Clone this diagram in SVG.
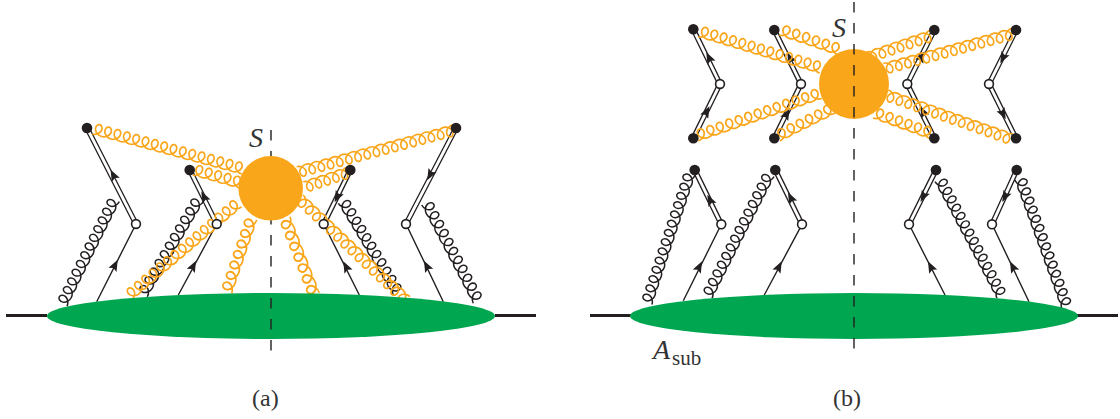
<svg xmlns="http://www.w3.org/2000/svg" width="1120" height="419" viewBox="0 0 1120 419">
<style>
.o{stroke:#faa61a;fill:none;stroke-width:1.7}
.k{stroke:#231f20;fill:none;stroke-width:1.5}
.l{stroke:#231f20;fill:none;stroke-width:1.4}
.w1{stroke:#231f20;fill:none;stroke-width:5.4}
.w2{stroke:#fff;fill:none;stroke-width:2.8}
.d{fill:#231f20}
.h{fill:#fff;stroke:#231f20;stroke-width:1.6}
.g{fill:#00a650}
.b{fill:#faa61a}
.x{stroke:#231f20;stroke-width:3;fill:none}
.c{stroke:#231f20;stroke-width:1.4;stroke-dasharray:10.5 10.5;fill:none}
text{font-family:"Liberation Serif",serif;fill:#333}
.i{font-style:italic;font-size:28px}
.s{font-size:21px}
.t{font-size:24px}
</style>
<defs>
<path id="coil" pathLength="20" d="M0 0
c3.69 0 7.12 2.62 7.935 5.5c.81 2.88-.995 5.5-3.065 5.5c-2.07 0-3.877-2.62-3.065-5.5c.81-2.88 4.245-5.5 7.935-5.5
c3.69 0 7.12 2.62 7.935 5.5c.81 2.88-.995 5.5-3.065 5.5c-2.07 0-3.877-2.62-3.065-5.5c.81-2.88 4.245-5.5 7.935-5.5
c3.69 0 7.12 2.62 7.935 5.5c.81 2.88-.995 5.5-3.065 5.5c-2.07 0-3.877-2.62-3.065-5.5c.81-2.88 4.245-5.5 7.935-5.5
c3.69 0 7.12 2.62 7.935 5.5c.81 2.88-.995 5.5-3.065 5.5c-2.07 0-3.877-2.62-3.065-5.5c.81-2.88 4.245-5.5 7.935-5.5
c3.69 0 7.12 2.62 7.935 5.5c.81 2.88-.995 5.5-3.065 5.5c-2.07 0-3.877-2.62-3.065-5.5c.81-2.88 4.245-5.5 7.935-5.5
c3.69 0 7.12 2.62 7.935 5.5c.81 2.88-.995 5.5-3.065 5.5c-2.07 0-3.877-2.62-3.065-5.5c.81-2.88 4.245-5.5 7.935-5.5
c3.69 0 7.12 2.62 7.935 5.5c.81 2.88-.995 5.5-3.065 5.5c-2.07 0-3.877-2.62-3.065-5.5c.81-2.88 4.245-5.5 7.935-5.5
c3.69 0 7.12 2.62 7.935 5.5c.81 2.88-.995 5.5-3.065 5.5c-2.07 0-3.877-2.62-3.065-5.5c.81-2.88 4.245-5.5 7.935-5.5
c3.69 0 7.12 2.62 7.935 5.5c.81 2.88-.995 5.5-3.065 5.5c-2.07 0-3.877-2.62-3.065-5.5c.81-2.88 4.245-5.5 7.935-5.5
c3.69 0 7.12 2.62 7.935 5.5c.81 2.88-.995 5.5-3.065 5.5c-2.07 0-3.877-2.62-3.065-5.5c.81-2.88 4.245-5.5 7.935-5.5
c3.69 0 7.12 2.62 7.935 5.5c.81 2.88-.995 5.5-3.065 5.5c-2.07 0-3.877-2.62-3.065-5.5c.81-2.88 4.245-5.5 7.935-5.5
c3.69 0 7.12 2.62 7.935 5.5c.81 2.88-.995 5.5-3.065 5.5c-2.07 0-3.877-2.62-3.065-5.5c.81-2.88 4.245-5.5 7.935-5.5
c3.69 0 7.12 2.62 7.935 5.5c.81 2.88-.995 5.5-3.065 5.5c-2.07 0-3.877-2.62-3.065-5.5c.81-2.88 4.245-5.5 7.935-5.5
c3.69 0 7.12 2.62 7.935 5.5c.81 2.88-.995 5.5-3.065 5.5c-2.07 0-3.877-2.62-3.065-5.5c.81-2.88 4.245-5.5 7.935-5.5
c3.69 0 7.12 2.62 7.935 5.5c.81 2.88-.995 5.5-3.065 5.5c-2.07 0-3.877-2.62-3.065-5.5c.81-2.88 4.245-5.5 7.935-5.5
c3.69 0 7.12 2.62 7.935 5.5c.81 2.88-.995 5.5-3.065 5.5c-2.07 0-3.877-2.62-3.065-5.5c.81-2.88 4.245-5.5 7.935-5.5
c3.69 0 7.12 2.62 7.935 5.5c.81 2.88-.995 5.5-3.065 5.5c-2.07 0-3.877-2.62-3.065-5.5c.81-2.88 4.245-5.5 7.935-5.5
c3.69 0 7.12 2.62 7.935 5.5c.81 2.88-.995 5.5-3.065 5.5c-2.07 0-3.877-2.62-3.065-5.5c.81-2.88 4.245-5.5 7.935-5.5
c3.69 0 7.12 2.62 7.935 5.5c.81 2.88-.995 5.5-3.065 5.5c-2.07 0-3.877-2.62-3.065-5.5c.81-2.88 4.245-5.5 7.935-5.5
c3.69 0 7.12 2.62 7.935 5.5c.81 2.88-.995 5.5-3.065 5.5c-2.07 0-3.877-2.62-3.065-5.5c.81-2.88 4.245-5.5 7.935-5.5"/>
<path id="ah" class="d" d="M6 0L-5.5 -4.5L-3.5 0L-5.5 4.5Z"/>
</defs>
<g id="connectors">
<g id="lines-a">
<path class="l" d="M96.7 301.7L136 224M178.3 295L216.7 224M359.3 295L323.7 224M443.3 301.7L406 224"/>
<path class="w1" d="M87 128L136 224M189.7 170L216.7 224M350.3 170L323.7 224M456 128L406 224"/>
<path class="w2" d="M87 128L136 224M189.7 170L216.7 224M350.3 170L323.7 224M456 128L406 224"/>
</g>
<g id="lines-b">
<path class="l" d="M683.3 300.7L721.3 224.3M764.3 295L802 224.3M945 295L909 224.3M1029 301.7L992 224.3"/>
<path class="w1" d="M693.3 29.3L720 84L693.3 138.3M774.3 30L801 84L774.3 138.3M934.3 30L907.3 84L934.3 138.3M1016 30L989 84L1016 138.3M694.7 170L721.3 224.3M775.3 170L802 224.3M936 170L909 224.3M1016.7 170L992 224.3"/>
<path class="w2" d="M693.3 29.3L720 84L693.3 138.3M774.3 30L801 84L774.3 138.3M934.3 30L907.3 84L934.3 138.3M1016 30L989 84L1016 138.3M694.7 170L721.3 224.3M775.3 170L802 224.3M936 170L909 224.3M1016.7 170L992 224.3"/>
</g>
<g id="arrows">
<use href="#ah" transform="translate(113.3,175) rotate(-117)"/>
<use href="#ah" transform="translate(115,265) rotate(-63)"/>
<use href="#ah" transform="translate(204,196.7) rotate(-117)"/>
<use href="#ah" transform="translate(193.3,266) rotate(-63)"/>
<use href="#ah" transform="translate(337.3,197) rotate(117)"/>
<use href="#ah" transform="translate(346,266.7) rotate(-117)"/>
<use href="#ah" transform="translate(430,175) rotate(117)"/>
<use href="#ah" transform="translate(426.7,266) rotate(-117)"/>
<use href="#ah" transform="translate(709,57.7) rotate(-117)"/>
<use href="#ah" transform="translate(706.7,111.7) rotate(-63)"/>
<use href="#ah" transform="translate(790,58) rotate(-117)"/>
<use href="#ah" transform="translate(786.7,114) rotate(-63)"/>
<use href="#ah" transform="translate(921.7,56.7) rotate(-63)"/>
<use href="#ah" transform="translate(923,111.7) rotate(-117)"/>
<use href="#ah" transform="translate(1003,58) rotate(117)"/>
<use href="#ah" transform="translate(1003,114) rotate(63)"/>
<use href="#ah" transform="translate(710,200) rotate(-117)"/>
<use href="#ah" transform="translate(699.3,266.7) rotate(-63)"/>
<use href="#ah" transform="translate(790.7,197.7) rotate(-117)"/>
<use href="#ah" transform="translate(779,266.7) rotate(-63)"/>
<use href="#ah" transform="translate(923.3,196.7) rotate(117)"/>
<use href="#ah" transform="translate(930.7,266.7) rotate(-117)"/>
<use href="#ah" transform="translate(1005,196.7) rotate(117)"/>
<use href="#ah" transform="translate(1012.7,266.7) rotate(-117)"/>
</g>
<g id="gluons-a">
<use href="#coil" class="k" stroke-dasharray="12 99" transform="translate(119.3,201.7) rotate(116.6)"/>
<use href="#coil" class="k" stroke-dasharray="11 99" transform="translate(203.3,201.7) rotate(120.5) scale(1.03,1)"/>
<use href="#coil" class="k" stroke-dasharray="11 99" transform="translate(338.3,203.3) rotate(59) scale(1,-1)"/>
<use href="#coil" class="k" stroke-dasharray="11 99" transform="translate(421.7,205) rotate(62.3) scale(1.036,-1)"/>
<use href="#coil" class="o" stroke-dasharray="16 99" transform="translate(92.3,134) rotate(15) scale(.993,-1)"/>
<use href="#coil" class="o" stroke-dasharray="5 99" transform="translate(192.7,175) rotate(15.7) scale(1.006,-1)"/>
<use href="#coil" class="o" stroke-dasharray="15 99" transform="translate(131.7,300) rotate(-40.3) scale(.986,-1)"/>
<use href="#coil" class="o" stroke-dasharray="7 99" transform="translate(256.7,220) rotate(108.8) scale(1.137,1)"/>
<use href="#coil" class="o" stroke-dasharray="7 99" transform="translate(290,216.7) rotate(68.9) scale(1.195,1)"/>
<use href="#coil" class="o" stroke-dasharray="17 99" transform="translate(296.7,166.7) rotate(-15) scale(.975,1)"/>
<use href="#coil" class="o" stroke-dasharray="5 99" transform="translate(303.3,181.7) rotate(-18.4) scale(.94,1)"/>
<use href="#coil" class="o" stroke-dasharray="15 99" transform="translate(303.3,195) rotate(43.6) scale(1.009,1)"/>
</g>
<g id="gluons-b">
<use href="#coil" class="k" stroke-dasharray="14 99" transform="translate(695,175) rotate(108.4)"/>
<use href="#coil" class="k" stroke-dasharray="14 99" transform="translate(774,176.7) rotate(117)"/>
<use href="#coil" class="k" stroke-dasharray="14 99" transform="translate(935,181.7) rotate(62) scale(.968,-1)"/>
<use href="#coil" class="k" stroke-dasharray="14 99" transform="translate(1015,180) rotate(70) scale(1,-1)"/>
<use href="#coil" class="o" stroke-dasharray="13 99" transform="translate(698.3,36.7) rotate(16.7) scale(1,-1)"/>
<use href="#coil" class="o" stroke-dasharray="6 99" transform="translate(779.3,35) rotate(18.7) scale(1.066,-1)"/>
<use href="#coil" class="o" stroke-dasharray="7 99" transform="translate(866.7,52) rotate(-18.8) scale(.98,1)"/>
<use href="#coil" class="o" stroke-dasharray="14 99" transform="translate(883.3,63.3) rotate(-15.2) scale(.975,1)"/>
<use href="#coil" class="o" stroke-dasharray="13 99" transform="translate(698.3,141) rotate(-19) scale(1.03,-1)"/>
<use href="#coil" class="o" stroke-dasharray="6 99" transform="translate(780,141) rotate(-26.7) scale(1.054,-1)"/>
<use href="#coil" class="o" stroke-dasharray="6 99" transform="translate(873,118) rotate(20) scale(1.035,-1)"/>
<use href="#coil" class="o" stroke-dasharray="14 99" transform="translate(888.3,90) rotate(19.4) scale(.97,1)"/>
</g>
</g>
<g id="panel-a-nodes">
<g id="ext-a"><path class="x" d="M6 315.5H47M495 315.5H536"/></g>
<ellipse id="amp-a" class="g" cx="271" cy="316" rx="224" ry="23"/>
<path id="cut-a" class="c" d="M271 130V351"/>
<circle id="soft-a" class="b" cx="270.7" cy="188.3" r="32.3"/>
<g id="ends-a">
<circle class="d" cx="87" cy="128" r="5.3"/><circle class="d" cx="189.7" cy="170" r="5.3"/><circle class="d" cx="350.3" cy="170" r="5.3"/><circle class="d" cx="456" cy="128" r="5.3"/>
<circle class="h" cx="136" cy="224" r="4.4"/><circle class="h" cx="216.7" cy="224" r="4.4"/><circle class="h" cx="323.7" cy="224" r="4.4"/><circle class="h" cx="406" cy="224" r="4.4"/>
</g>
</g>
<g id="panel-b-nodes">
<g id="ext-b"><path class="x" d="M590 315.5H631M1077 315.5H1118"/></g>
<ellipse id="amp-b" class="g" cx="854" cy="316" rx="224" ry="23"/>
<circle id="soft-b" class="b" cx="854" cy="84" r="35"/>
<path id="cut-b" class="c" d="M854 2V351"/>
<g id="ends-b">
<circle class="d" cx="693.3" cy="29.3" r="5.3"/><circle class="d" cx="774.3" cy="30" r="5.3"/><circle class="d" cx="934.3" cy="30" r="5.3"/><circle class="d" cx="1016" cy="30" r="5.3"/>
<circle class="d" cx="693.3" cy="138.3" r="5.3"/><circle class="d" cx="774.3" cy="138.3" r="5.3"/><circle class="d" cx="934.3" cy="138.3" r="5.3"/><circle class="d" cx="1016" cy="138.3" r="5.3"/>
<circle class="d" cx="694.7" cy="170" r="5.3"/><circle class="d" cx="775.3" cy="170" r="5.3"/><circle class="d" cx="936" cy="170" r="5.3"/><circle class="d" cx="1016.7" cy="170" r="5.3"/>
<circle class="h" cx="720" cy="84" r="4.4"/><circle class="h" cx="801" cy="84" r="4.4"/><circle class="h" cx="907.3" cy="84" r="4.4"/><circle class="h" cx="989" cy="84" r="4.4"/>
<circle class="h" cx="721.3" cy="224.3" r="4.4"/><circle class="h" cx="802" cy="224.3" r="4.4"/><circle class="h" cx="909" cy="224.3" r="4.4"/><circle class="h" cx="992" cy="224.3" r="4.4"/>
</g>
</g>
<g id="labels">
<text class="i" x="249" y="147.3">S</text>
<text class="i" x="832" y="36.5">S</text>
<text class="i" x="653" y="359.3">A</text>
<text class="s" x="672" y="364.5">sub</text>
<text class="t" x="252" y="405.5">(a)</text>
<text class="t" x="833" y="405.5">(b)</text>
</g>
</svg>
